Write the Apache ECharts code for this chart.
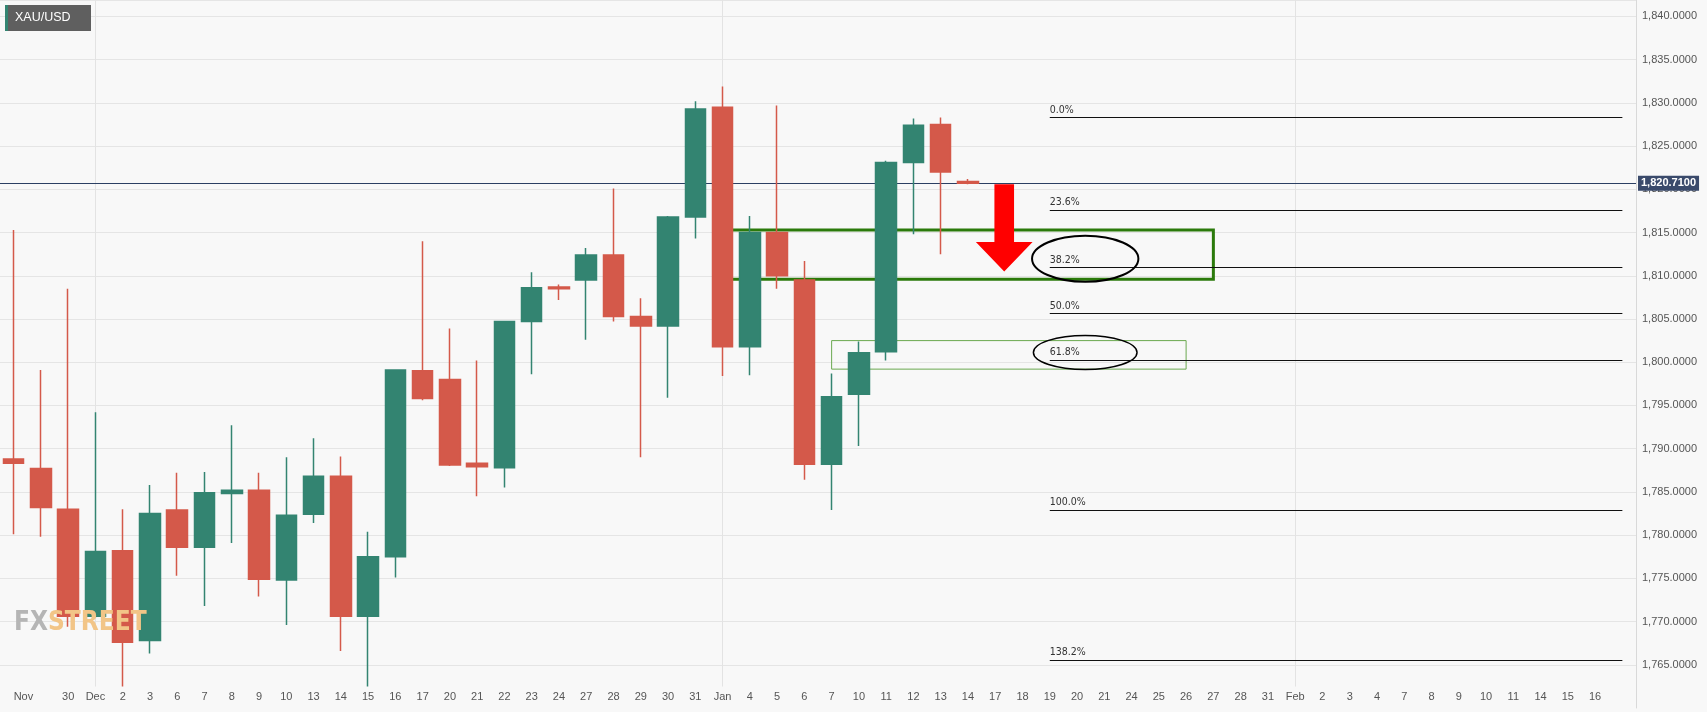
<!DOCTYPE html>
<html><head><meta charset="utf-8">
<script src="https://cdn.jsdelivr.net/npm/echarts@6/dist/echarts.min.js"></script>
<style>html,body{margin:0;padding:0;background:#f8f8f8}#c{width:1707px;height:712px}</style>
</head><body><div id="c"></div>
<script>
const labels = ['Nov','','30','Dec','2','3','6','7','8','9','10','13','14','15','16','17','20','21','22','23','24','27','28','29','30','31',
 'Jan','4','5','6','7','10','11','12','13','14','17','18','19','20','21','24','25','26','27','28','31',
 'Feb','2','3','4','7','8','9','10','11','14','15','16',''];
const opens  = [1788.8,1787.7,1783.0,1770.6,1778.2,1767.8,1782.9,1778.6,1784.8,1785.2,1774.8,1782.4,1786.8,1770.6,1777.5,1799.0,1798.0,1788.3,1787.8,1804.7,1808.7,1809.5,1812.4,1805.3,1804.2,1816.8,
 1829.5,1801.8,1815.0,1809.5,1788.2,1796.3,1801.2,1823.1,1827.5,1820.9];
const closes = [1788.3,1783.2,1770.6,1778.1,1767.6,1782.5,1778.6,1784.9,1785.2,1774.9,1782.3,1786.8,1770.6,1777.5,1799.1,1795.8,1788.1,1787.9,1804.7,1808.6,1808.5,1812.4,1805.3,1804.2,1816.8,1829.3,
 1801.8,1815.0,1810.0,1788.2,1796.0,1801.1,1823.1,1827.4,1822.0,1820.71];
const lows   = [1780.1,1779.8,1769.4,1770.5,1762.3,1766.3,1775.3,1771.8,1779.1,1772.9,1769.6,1781.4,1766.6,1762.3,1775.1,1795.6,1788.0,1784.5,1785.5,1798.6,1807.2,1802.6,1804.7,1789.0,1795.9,1814.3,
 1798.4,1798.5,1808.5,1786.4,1782.9,1790.3,1800.2,1814.8,1812.5,1820.6];
const highs  = [1815.3,1799.1,1808.5,1794.2,1783.0,1785.8,1787.2,1787.3,1792.7,1787.2,1789.0,1791.2,1789.1,1780.4,1799.1,1814.0,1803.9,1800.2,1804.7,1810.4,1809.0,1813.2,1820.1,1807.4,1816.9,1830.2,
 1831.9,1816.9,1829.7,1811.7,1798.7,1802.4,1823.3,1828.2,1828.3,1821.2];
const lastPrice = 1820.71;
const fibNames  = ['0.0%','23.6%','38.2%','50.0%','61.8%','100.0%','138.2%'];
const fibLevels = [1828.3,1817.6,1810.96,1805.65,1800.24,1782.9,1765.56];
const fibStart = 38, fibEnd = 59;
const monthStarts = [3,26,47];
const zoneBig = [[26,1815.3],[44,1809.6]];
const zoneSmall = [[30,1802.5],[43,1799.2]];

const UP='#338471', DN='#d4594a';
const candles = opens.map((o,i)=>[o,closes[i],lows[i],highs[i]]);
const fmt = v => v.toLocaleString('en-US',{minimumFractionDigits:4,maximumFractionDigits:4});
const COND = "'DejaVu Sans Condensed','Liberation Sans',sans-serif";

const chart = echarts.init(document.getElementById('c'));
const fibLines = fibLevels.map((lv,i)=>[
  {coord:[fibStart,lv], label:{formatter:fibNames[i]}},
  {coord:[fibEnd,lv]}
]);
chart.setOption({
  backgroundColor:'#f8f8f8',
  animation:false,
  grid:[{left:-13.75,right:71,top:0,bottom:4},{left:-13.75,right:71,bottom:26,height:0}],
  xAxis:[
    {type:'category',data:labels,gridIndex:0,axisLine:{show:false},axisTick:{show:false},axisLabel:{show:false},splitLine:{show:false}},
    {type:'category',data:labels,gridIndex:1,z:200,axisLine:{show:false},axisTick:{show:false},
     axisLabel:{interval:0,color:'#555',fontSize:11,margin:5,fontFamily:'Liberation Sans',alignMinLabel:'left'}}
  ],
  yAxis:[
    {type:'value',position:'right',min:1760,max:1841.9,interval:5,gridIndex:0,
     axisLine:{show:true,lineStyle:{color:'#d9d9d9'}},axisTick:{show:false},
     splitLine:{lineStyle:{color:'#e5e5e5'}},
     axisLabel:{color:'#555',fontSize:11,margin:6,fontFamily:'Liberation Sans',showMaxLabel:false,
       formatter:v=>(v<1765||v>1840)?'':fmt(v)}},
    {type:'value',gridIndex:1,show:false}
  ],
  series:[
    {type:'line',xAxisIndex:0,yAxisIndex:0,data:[],silent:true,z:0,
     markLine:{silent:true,symbol:'none',animation:false,
       lineStyle:{color:'#e3e3e3',width:1,type:'solid'},label:{show:false},
       data:monthStarts.map(m=>({xAxis:m}))}},
    {type:'candlestick',xAxisIndex:0,yAxisIndex:0,data:candles,barWidth:21,z:5,
     itemStyle:{color:UP,color0:DN,borderColor:UP,borderColor0:DN,borderWidth:1.5},
     markArea:{silent:true,data:[
       [{coord:zoneBig[0],itemStyle:{color:'rgba(0,0,0,0)',borderColor:'#2b7a0b',borderWidth:3}},{coord:zoneBig[1]}],
       [{coord:zoneSmall[0],itemStyle:{color:'rgba(0,0,0,0)',borderColor:'#6aa84f',borderWidth:1}},{coord:zoneSmall[1]}]
     ]},
     markLine:{silent:true,symbol:'none',animation:false,
       data:[
         ...fibLines.map(d=>[Object.assign({},d[0],{lineStyle:{color:'#111',width:1.2,type:'solid'},
            label:{show:true,position:'insideStartTop',formatter:d[0].label.formatter,color:'#333',fontSize:10.5,fontFamily:COND,distance:[0,2]}}),d[1]]),
         {yAxis:lastPrice,lineStyle:{color:'#2b3f63',width:1,type:'solid'},
          label:{show:true,position:'end',formatter:fmt(lastPrice),backgroundColor:'#3a4a6b',color:'#fff',fontSize:11,fontWeight:'bold',padding:[2,3],distance:2}}
       ]}}
  ]
});

function px(x,y){
  const x0=Math.floor(x), f=x-x0;
  const a=chart.convertToPixel({gridIndex:0},[x0,y]);
  const b=chart.convertToPixel({gridIndex:0},[x0+1,y]);
  return [a[0]+(b[0]-a[0])*f,a[1]];
}
const ellipses=[{x:39.3,y:1811.97,rx:1.95,ry:2.66,w:2},{x:39.3,y:1801.13,rx:1.9,ry:1.97,w:1.5}];
const arrow={x:36.33,top:1820.6,headTop:1813.9,tip:1810.5,shaft:0.36,head:1.04};
const g=[];
ellipses.forEach(e=>{
  const c=px(e.x,e.y), r=px(e.x+e.rx,e.y), t=px(e.x,e.y+e.ry);
  g.push({type:'ellipse',z:100,shape:{cx:c[0],cy:c[1],rx:r[0]-c[0],ry:c[1]-t[1]},style:{fill:null,stroke:'#000',lineWidth:e.w}});
});
const pts=[px(arrow.x-arrow.shaft,arrow.top),px(arrow.x+arrow.shaft,arrow.top),px(arrow.x+arrow.shaft,arrow.headTop),
  px(arrow.x+arrow.head,arrow.headTop),px(arrow.x,arrow.tip),px(arrow.x-arrow.head,arrow.headTop),px(arrow.x-arrow.shaft,arrow.headTop)];
g.push({type:'polygon',z:100,shape:{points:pts},style:{fill:'#ff0000'}});
const bot=chart.convertToPixel({gridIndex:0},[0,1762.5])[1];
g.push({type:'rect',z:150,shape:{x:0,y:bot,width:1636,height:712-bot},style:{fill:'#f8f8f8'}});
g.push({type:'rect',z:150,shape:{x:5,y:5,width:86,height:26},style:{fill:'#5f5f5f'}});
g.push({type:'rect',z:151,shape:{x:5,y:5,width:3,height:26},style:{fill:UP}});
g.push({type:'text',z:152,style:{x:15,y:18,text:'XAU/USD',fill:'#fff',font:'12.5px Liberation Sans',verticalAlign:'middle'}});
g.push({type:'text',z:152,style:{x:14,y:623,text:'FX',fill:'#b5b5b5',font:"bold 26px 'DejaVu Sans Condensed'",verticalAlign:'middle'}});
g.push({type:'text',z:152,style:{x:48,y:623,text:'STREET',fill:'#f2c587',font:"bold 26px 'DejaVu Sans Condensed'",verticalAlign:'middle'}});
chart.setOption({graphic:g});
</script></body></html>
